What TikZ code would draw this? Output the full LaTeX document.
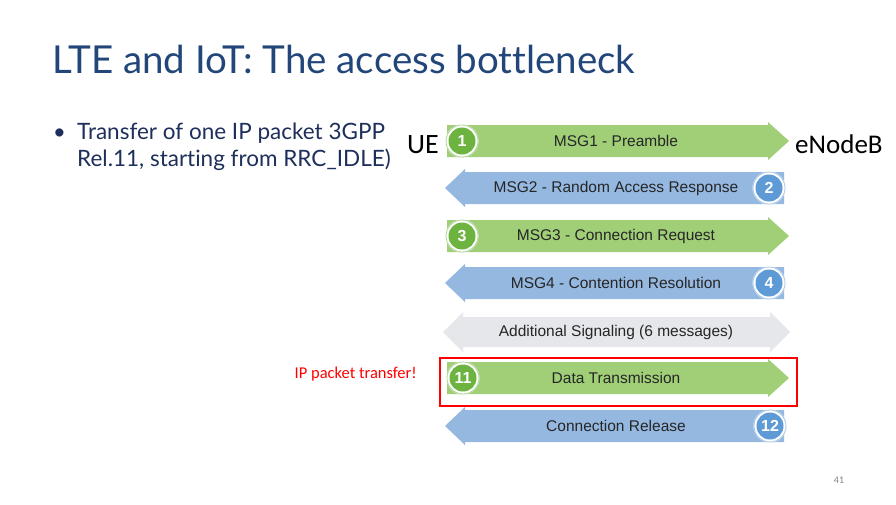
\documentclass[tikz,border=0pt]{standalone}
\usepackage{fontspec}
\setmainfont{Lato}[Ligatures=NoCommon]
\newfontfamily\arialf{Liberation Sans}
\newfontfamily\calibrif{Carlito}
\definecolor{titleblue}{HTML}{22467A}
\definecolor{bodynavy}{HTML}{1E2F5B}
\definecolor{greenbar}{HTML}{A0CF78}
\definecolor{greendot}{HTML}{6DB33F}
\definecolor{bluebar}{HTML}{95B8E1}
\definecolor{bluedot}{HTML}{5E9AD5}
\definecolor{greybar}{HTML}{E6E7EA}
\definecolor{msgtext}{HTML}{262626}
\newcommand\BarRight[3]{% name, centre y, colour
  \fill[#3] (447,{#2-16}) -- (768,{#2-16}) -- (768,{#2-19}) -- (789,#2)
    -- (768,{#2+19}) -- (768,{#2+16}) -- (447,{#2+16}) -- cycle;
  \coordinate (#1) at (616,#2);}
\newcommand\BarLeft[3]{%
  \fill[#3] (784,{#2-16}) -- (465,{#2-16}) -- (465,{#2-19}) -- (445,#2)
    -- (465,{#2+19}) -- (465,{#2+16}) -- (784,{#2+16}) -- cycle;
  \coordinate (#1) at (616,#2);}
\newcommand\BarBoth[3]{%
  \fill[#3] (463,{#2-15}) -- (770,{#2-15}) -- (770,{#2-20}) -- (790,#2)
    -- (770,{#2+20}) -- (770,{#2+15}) -- (463,{#2+15}) -- (463,{#2+20})
    -- (443,#2) -- (463,{#2-20}) -- cycle;
  \coordinate (#1) at (616,#2);}
\newcommand\Badge[4]{% name, x, y, colour
  \fill[white] (#2,#3) circle[radius=16.5];
  \draw[#4!55, line width=0.8] (#2,#3) circle[radius=16];
  \node[circle, fill=#4, minimum size=27, inner sep=0] (#1) at (#2,#3) {};}
\tikzset{
  msg/.style={font=\arialf\fontsize{15.5}{17}\selectfont, text=msgtext, anchor=center},
  numtxt/.style={font=\arialf\bfseries\fontsize{16}{16}\selectfont, text=white},
  bodyline/.style={anchor=base west, inner sep=0, text=bodynavy,
      font=\fontsize{22.5}{27}\selectfont},
}
\begin{document}
\begin{tikzpicture}[x=1pt,y=-1pt]
\useasboundingbox (0,0) rectangle (896,504);
\fill[white] (0,0) rectangle (896,504);

% heading and bullet text
\node[anchor=base west, inner sep=0, text=titleblue,
      font=\fontsize{38.5}{40}\selectfont] (title) at (52,73) {LTE and IoT: The access bottleneck};
\node[anchor=base west, inner sep=0, text=bodynavy,
      font=\fontsize{22}{22}\selectfont] (dot) at (53,139) {•};
\node[bodyline] (line1) at (77,139) {Transfer of one IP packet 3GPP};
\node[bodyline] (line2) at (77,166) {Rel.11, starting from RRC\_IDLE)};

% end points
\node[anchor=base west, inner sep=0, font=\calibrif\fontsize{28}{28}\selectfont] (ue) at (407,153) {UE};
\node[anchor=base west, inner sep=0, font=\calibrif\fontsize{27}{27}\selectfont] (enb) at (795,153) {eNodeB};

% message bars
\BarRight{m1}{141}{greenbar}
\BarLeft{m2}{188}{bluebar}
\BarRight{m3}{236}{greenbar}
\BarLeft{m4}{283}{bluebar}
\BarBoth{m5}{332}{greybar}
\BarRight{m6}{378}{greenbar}
\BarLeft{m7}{426}{bluebar}

\node[msg] (t1) at (m1) {MSG1 - Preamble};
\node[msg] (t2) at (m2) {MSG2 - Random Access Response};
\node[msg] (t3) at (m3) {MSG3 - Connection Request};
\node[msg] (t4) at (m4) {MSG4 - Contention Resolution};
\node[msg] (t5) at (m5) {Additional Signaling (6 messages)};
\node[msg] (t6) at (m6) {Data Transmission};
\node[msg] (t7) at (m7) {Connection Release};

% numbered badges
\Badge{b1}{462}{141}{greendot}
\node[numtxt] at (b1) {1};
\Badge{b2}{769}{188}{bluedot}
\node[numtxt] at (b2) {2};
\Badge{b3}{462}{236}{greendot}
\node[numtxt] at (b3) {3};
\Badge{b4}{769}{283}{bluedot}
\node[numtxt] at (b4) {4};
\Badge{b11}{463}{378}{greendot}
\node[numtxt] at (b11) {11};
\Badge{b12}{770}{426}{bluedot}
\node[numtxt] at (b12) {12};

% highlight of the data transfer
\node[draw=red, line width=1.6, minimum width=357, minimum height=48, inner sep=0]
  (hl) at (618.5,382) {};
\node[anchor=base east, inner sep=0, text=red, font=\calibrif\fontsize{16.5}{17}\selectfont]
  (note) at (417,378) {IP packet transfer!};

% slide number
\node[anchor=base, inner sep=0, text=gray, font=\fontsize{9}{9}\selectfont] (pg) at (839,483) {41};
\end{tikzpicture}
\end{document}
